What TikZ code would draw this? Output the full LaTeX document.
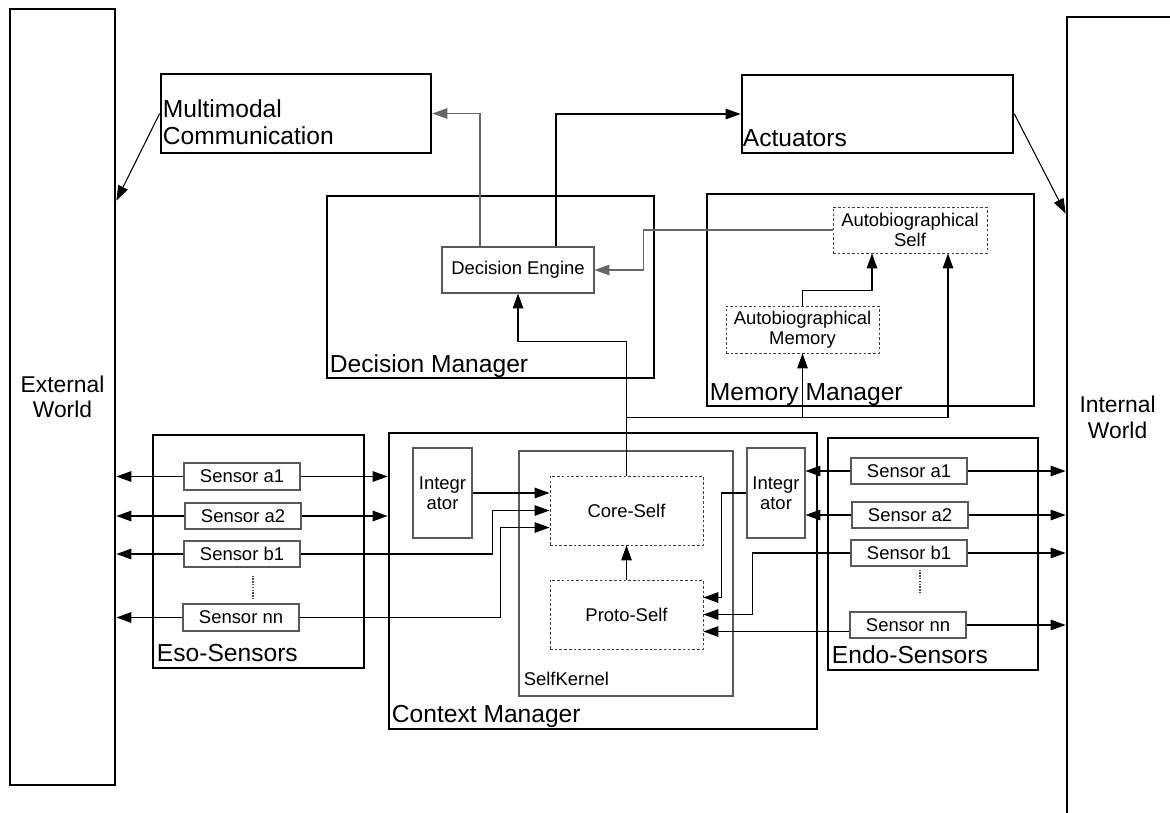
\documentclass[tikz,border=0pt]{standalone}
\usepackage{fontspec}
\setmainfont{Liberation Sans}
\usetikzlibrary{arrows.meta,fit,calc}

\begin{document}
\begin{tikzpicture}[x=0.02cm, y=-0.02cm,
    every label/.style={inner sep=0pt, align=center, font=\fontsize{10.5}{11.5}\selectfont},
    bigbox/.style={draw, line width=1.6pt, inner sep=0pt},
    thinbox/.style={draw=black!65, line width=0.6pt, inner sep=0pt},
    selfbox/.style={thinbox, draw=black!75, line width=0.5pt, dash pattern=on 1.5pt off 1.2pt},
    biglabel/.style={anchor=base west, inner sep=0pt, font=\fontsize{14}{15.3}\selectfont},
    smalllabel/.style={anchor=base west, inner sep=0pt, font=\fontsize{10.5}{11.5}\selectfont},
    worldlabel/.style={inner sep=0pt, align=center, font=\fontsize{13}{14.5}\selectfont},
    conn/.style={line width=0.6pt, -{Triangle[length=8.5pt,width=6pt]}},
    gconn/.style={conn, draw=black!60},
    dots/.style={draw=black!70, line width=0.6pt, dash pattern=on 0.8pt off 0.8pt}]
    \useasboundingbox (0,0) rectangle (1170,812);

    \node[bigbox, fit={(10,9) (115,785)}] (ext) {};
    \node[worldlabel] at (ext) {External\\World};
    \node[bigbox, fit={(1067,17) (1200,830)}] (int) {};
    \node[worldlabel] at ($(int.west)+(52,-6)$) {Internal\\World};

    \node[bigbox, fit={(161,74) (431,153)}] (mmc) {};
    \node[biglabel, align=left, anchor=south west] at ($(mmc.south west)+(3,-9)$) {Multimodal\\Communication};
    \node[bigbox, fit={(742,75) (1013,153)}] (act) {};
    \node[biglabel] at ($(act.south west)+(2,-8)$) {Actuators};

    \node[bigbox, fit={(327,196) (654,378)}] (dm) {};
    \node[biglabel] at ($(dm.south west)+(4,-7)$) {Decision Manager};
    \node[thinbox, fit={(442,247) (594,293)}, label=center:Decision Engine] (de) {};

    \node[bigbox, fit={(707,194) (1034,406)}] (mm) {};
    \node[biglabel] at ($(mm.south west)+(4,-7)$) {Memory Manager};
    \node[selfbox, fit={(833,207) (987,253)}, label=center:{Autobiographical\\Self}] (as) {};
    \node[selfbox, fit={(726,306) (879,353)}, label=center:{Autobiographical\\Memory}] (am) {};

    \node[bigbox, fit={(389,433) (817,729)}] (cm) {};
    \node[biglabel] at ($(cm.south west)+(4,-8)$) {Context Manager};
    \node[thinbox, fit={(519,451) (733,696)}] (sk) {};
    \node[smalllabel] at ($(sk.south west)+(5,-11)$) {SelfKernel};
    \node[selfbox, fit={(550,476) (703,545)}, label=center:Core-Self] (cs) {};
    \node[selfbox, fit={(550,580) (703,649)}, label=center:Proto-Self] (ps) {};
    \node[thinbox, fit={(413,448) (472,538)}, label=center:{Integr\\ator}] (intl) {};
    \node[thinbox, fit={(747,448) (805,538)}, label=center:{Integr\\ator}] (intr) {};

    \node[bigbox, fit={(153,435) (364,668)}] (eso) {};
    \node[biglabel] at ($(eso.south west)+(5,-8)$) {Eso-Sensors};
    \node[thinbox, fit={(184,463) (300,490)}, label=center:Sensor a1] (esa1) {};
    \node[thinbox, fit={(185,503) (301,529)}, label=center:Sensor a2] (esa2) {};
    \node[thinbox, fit={(184,541) (300,567)}, label=center:Sensor b1] (esb1) {};
    \node[thinbox, fit={(183,604) (299,631)}, label=center:Sensor nn] (esnn) {};

    \node[bigbox, fit={(828,438) (1038,670)}] (endo) {};
    \node[biglabel] at ($(endo.south west)+(5,-8)$) {Endo-Sensors};
    \node[thinbox, fit={(851,458) (967,484)}, label=center:Sensor a1] (ena1) {};
    \node[thinbox, fit={(852,502) (968,528)}, label=center:Sensor a2] (ena2) {};
    \node[thinbox, fit={(851,540) (967,566)}, label=center:Sensor b1] (enb1) {};
    \node[thinbox, fit={(850,612) (966,638)}, label=center:Sensor nn] (ennn) {};

    \coordinate (extmmc) at ($(ext.north east)+(0,193)$);
    \coordinate (intact) at ($(int.north west)+(0,198)$);
    \draw[conn] (mmc.west) -- (extmmc);
    \draw[conn] (act.east) -- (intact);

    \draw[gconn] ($(de.north)+(-38,0)$) |- (mmc.east);
    \draw[conn] ($(de.north)+(38,0)$) |- (act.west);
    \draw[gconn] (as.west) -| ($(de.east)+(49,0)$) -- (de.east);
    \draw[conn] (cs.north) -- ++(0,-134) -| (de.south);
    \coordinate (tap) at ($(cs.north)+(0,-58)$);
    \draw[conn] (tap) -| ($(as.south)+(38,0)$);
    \draw[conn] (tap -| am.south) -- (am.south);
    \draw[conn] (am.north) -- ++(0,-15) -| ($(as.south)+(-38,0)$);
    \draw[conn] (ps.north) -- (cs.south);

    \coordinate (cs3) at ($(cs.west)+(0,17)$);
    \draw[conn] (intl.east) -- (intl.east -| cs.west);
    \draw[conn] (esb1.east) -| ($(cs.west)+(-57,0)$) -- (cs.west);
    \draw[conn] (esnn.east) -| ($(cs3)+(-49,0)$) -- (cs3);

    \coordinate (ps1) at ($(ps.east)+(0,-17)$);
    \coordinate (ps3) at ($(ps.east)+(0,17)$);
    \draw[conn] (intr.west) -| ($(ps1)+(18,0)$) -- (ps1);
    \draw[conn] (enb1.west) -| ($(ps.east)+(49,0)$) -- (ps.east);
    \draw[conn] (ps3 -| ennn.west) -- (ps3);

    \foreach \s in {esa1,esa2,esb1,esnn}
        \draw[conn] (\s.west) -- (\s.west -| ext.east);
    \foreach \s in {esa1,esa2}
        \draw[conn] (\s.east) -- (\s.east -| cm.west);
    \foreach \s in {ena1,ena2,enb1,ennn}
        \draw[conn] (\s.east) -- (\s.east -| int.west);
    \foreach \s in {ena1,ena2}
        \draw[conn] (\s.west) -- (\s.west -| intr.east);

    \draw[dots] ($(esb1.south)+(11,8)$) -- ($(esnn.north)+(12,-4)$);
    \draw[dots] ($(enb1.south)+(11,3)$) -- ($(ennn.north)+(12,-18)$);
\end{tikzpicture}
\end{document}
